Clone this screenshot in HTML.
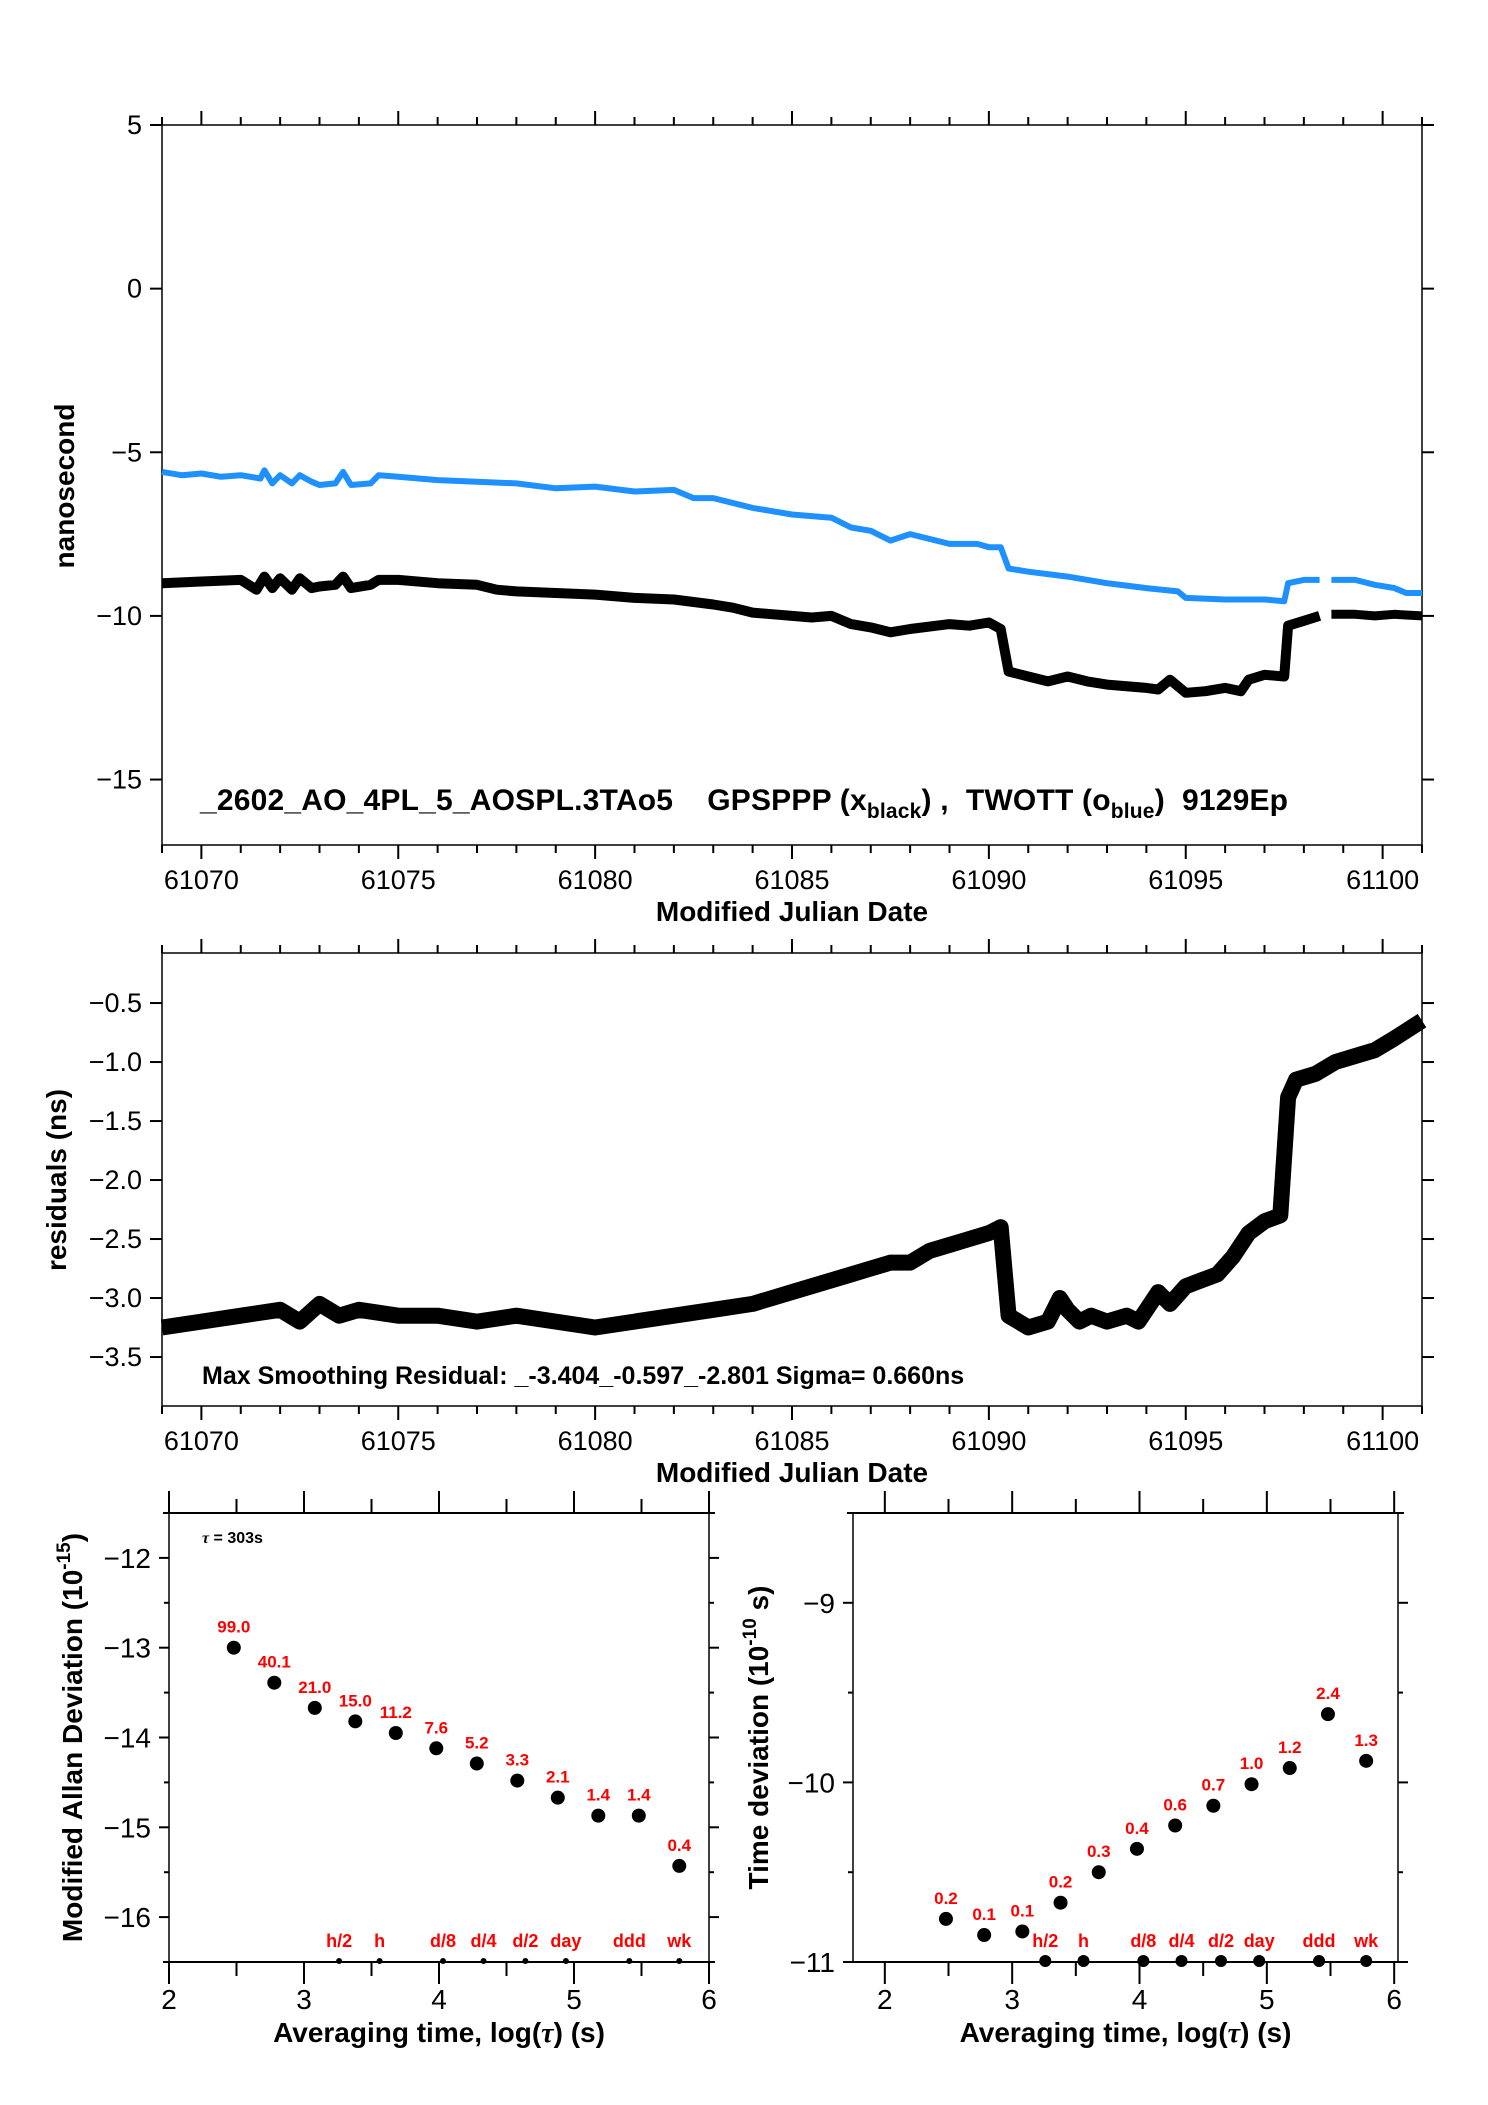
<!DOCTYPE html>
<html><head><meta charset="utf-8"><style>
body{margin:0;background:#fff}
svg{display:block}
text{font-family:"Liberation Sans",sans-serif}
</style></head><body>
<svg id="s" width="1488" height="2105" viewBox="0 0 1488 2105" xmlns="http://www.w3.org/2000/svg"></svg>
<script>
// ---- data ----
const twottMjd=[61069,61069.5,61070,61070.5,61071,61071.5,61071.6,61071.8,61072,61072.3,61072.5,61072.8,61073,61073.4,61073.6,61073.8,61074.3,61074.5,61075,61076,61077,61078,61079,61080,61081,61082,61082.5,61083,61083.5,61084,61084.5,61085,61086,61086.5,61087,61087.5,61088,61089,61089.7,61090,61090.3,61090.5,61091,61092,61093,61094,61094.8,61095,61096,61097,61097.5,61097.6,61098,61098.4];
const twottVal=[-5.6,-5.7,-5.65,-5.75,-5.7,-5.8,-5.55,-5.95,-5.7,-5.95,-5.7,-5.9,-6.0,-5.95,-5.6,-6.0,-5.95,-5.7,-5.75,-5.85,-5.9,-5.95,-6.1,-6.05,-6.2,-6.15,-6.4,-6.4,-6.55,-6.7,-6.8,-6.9,-7.0,-7.3,-7.4,-7.7,-7.5,-7.8,-7.8,-7.9,-7.9,-8.55,-8.65,-8.8,-9.0,-9.15,-9.25,-9.45,-9.5,-9.5,-9.55,-9.0,-8.9,-8.9];
const twottMjd2=[61098.7,61099.3,61099.8,61100.3,61100.6,61101];
const twottVal2=[-8.9,-8.9,-9.05,-9.15,-9.3,-9.3];
const gpsMjd=[61069,61070,61071,61071.4,61071.6,61071.8,61072,61072.3,61072.5,61072.8,61073,61073.4,61073.6,61073.8,61074.3,61074.5,61075,61076,61077,61077.5,61078,61079,61080,61081,61082,61083,61083.5,61084,61085,61085.5,61086,61086.5,61087,61087.5,61088,61089,61089.5,61090,61090.3,61090.5,61091,61091.5,61092,61092.5,61093,61094,61094.3,61094.6,61095,61095.5,61096,61096.4,61096.6,61097,61097.5,61097.6,61098,61098.4];
const gpsVal=[-9.0,-8.95,-8.9,-9.2,-8.8,-9.15,-8.85,-9.2,-8.85,-9.15,-9.1,-9.05,-8.8,-9.15,-9.05,-8.9,-8.9,-9.0,-9.05,-9.2,-9.25,-9.3,-9.35,-9.45,-9.5,-9.65,-9.75,-9.9,-10.0,-10.05,-10.0,-10.25,-10.35,-10.5,-10.4,-10.25,-10.3,-10.2,-10.4,-11.7,-11.85,-12.0,-11.85,-12.0,-12.1,-12.2,-12.25,-11.95,-12.35,-12.3,-12.2,-12.3,-11.95,-11.8,-11.85,-10.3,-10.15,-10.0];
const gpsMjd2=[61098.7,61099.3,61099.8,61100.3,61101];
const gpsVal2=[-9.95,-9.95,-10.0,-9.95,-10.0];
const resMjd=[61069,61070,61071,61072,61072.5,61073,61073.5,61074,61075,61076,61077,61078,61079,61080,61081,61082,61083,61084,61084.5,61085,61085.5,61086,61086.5,61087,61087.5,61088,61088.5,61089,61089.5,61090,61090.3,61090.5,61091,61091.5,61091.8,61092,61092.3,61092.6,61093,61093.5,61093.8,61094,61094.3,61094.6,61095,61095.4,61095.8,61096.2,61096.6,61097,61097.4,61097.6,61097.8,61098.3,61098.8,61099.3,61099.8,61100.3,61101];
const resVal=[-3.25,-3.2,-3.15,-3.1,-3.2,-3.05,-3.15,-3.1,-3.15,-3.15,-3.2,-3.15,-3.2,-3.25,-3.2,-3.15,-3.1,-3.05,-3.0,-2.95,-2.9,-2.85,-2.8,-2.75,-2.7,-2.7,-2.6,-2.55,-2.5,-2.45,-2.4,-3.15,-3.25,-3.2,-3.0,-3.1,-3.2,-3.15,-3.2,-3.15,-3.2,-3.1,-2.95,-3.05,-2.9,-2.85,-2.8,-2.65,-2.45,-2.35,-2.3,-1.3,-1.15,-1.1,-1.0,-0.95,-0.9,-0.8,-0.65];
const tauLog=[2.48,2.78,3.08,3.38,3.68,3.98,4.28,4.58,4.88,5.18,5.48,5.78];
const madev=[-13.0,-13.39,-13.67,-13.82,-13.95,-14.12,-14.29,-14.48,-14.67,-14.87,-14.87,-15.43];
const madevLbl=["99.0","40.1","21.0","15.0","11.2","7.6","5.2","3.3","2.1","1.4","1.4","0.4"];
const tdev=[-10.76,-10.85,-10.83,-10.67,-10.5,-10.37,-10.24,-10.13,-10.01,-9.92,-9.62,-9.88];
const tdevLbl=["0.2","0.1","0.1","0.2","0.3","0.4","0.6","0.7","1.0","1.2","2.4","1.3"];
const markLog=[3.26,3.56,4.03,4.33,4.64,4.94,5.41,5.78];
const markLbl=["h/2","h","d/8","d/4","d/2","day","ddd","wk"];
const mjdTicks=[61070,61075,61080,61085,61090,61095,61100];
const topYTicks=[5,0,-5,-10,-15];
const resYTicks=[-0.5,-1.0,-1.5,-2.0,-2.5,-3.0,-3.5];
const logTicks=[2,3,4,5,6];
const adevYTicks=[-12,-13,-14,-15,-16];
const tdevYTicks=[-9,-10,-11];

const S=document.getElementById('s');
const NS='http://www.w3.org/2000/svg';
function el(t,a,p){const e=document.createElementNS(NS,t);for(const k in a)e.setAttribute(k,a[k]);(p||S).appendChild(e);return e;}
function txt(x,y,s,a,p){const e=el('text',Object.assign({x:x,y:y,'font-size':24,fill:'#000'},a),p);e.textContent=s;return e;}
function lin(d0,d1,r0,r1){return v=>r0+(v-d0)/(d1-d0)*(r1-r0);}

function tsFrame(g,L,R,T,B,xs,ys,yTicks,fmt){
  el('rect',{x:L,y:T,width:R-L,height:B-T,fill:'none',stroke:'#000','stroke-width':1.5},g);
  for(let d=61069;d<=61101;d++){const x=xs(d);const maj=d%5==0;
    el('line',{x1:x,y1:T,x2:x,y2:T-(maj?14:8),stroke:'#000','stroke-width':2},g);
    el('line',{x1:x,y1:B,x2:x,y2:B+(maj?14:8),stroke:'#000','stroke-width':2},g);}
  mjdTicks.forEach(m=>{const t=txt(xs(m),B+44,String(m),{'text-anchor':'middle','font-size':27},g);
    
    });
  yTicks.forEach(v=>{const y=ys(v);
    el('line',{x1:L-12,y1:y,x2:L,y2:y,stroke:'#000','stroke-width':2},g);
    el('line',{x1:R,y1:y,x2:R+12,y2:y,stroke:'#000','stroke-width':2},g);
    const t=txt(L-20,y+9,fmt(v),{'text-anchor':'end','font-size':27},g);
    
    });
  const xt=txt((L+R)/2,B+76,'Modified Julian Date',{'text-anchor':'middle','font-size':28,'font-weight':'bold'},g);
  
  
}
function fmtNum(v){return v<0?'\u2212'+Math.abs(v):String(v);}
function fmtDec(v){return v<0?'\u2212'+Math.abs(v).toFixed(1):v.toFixed(1);}
function poly(g,xs,ys,X,Y,col,w,name){const pts=X.map((m,i)=>xs(m).toFixed(1)+','+ys(Y[i]).toFixed(1)).join(' ');
  const p=el('polyline',{points:pts,fill:'none',stroke:col,'stroke-width':w,'stroke-linejoin':'round'},g);
  
  }

const g1=el('g',{});


{const L=162,R=1422,T=125,B=845;const xs=lin(61069,61101,L,R),ys=lin(5,-17,T,B);
 tsFrame(g1,L,R,T,B,xs,ys,topYTicks,fmtNum);
 poly(g1,xs,ys,twottMjd,twottVal,'#1e90ff',6,'twott-series');
 poly(g1,xs,ys,twottMjd2,twottVal2,'#1e90ff',6,'twott-series-end');
 poly(g1,xs,ys,gpsMjd,gpsVal,'#000',10,'gpsppp-series');
 poly(g1,xs,ys,gpsMjd2,gpsVal2,'#000',9,'gpsppp-series-end');
 const yt=txt(0,0,'nanosecond',{'font-size':28,'font-weight':'bold','text-anchor':'middle',transform:'translate(74,486) rotate(-90)'},g1);
 
 
 const t=el('text',{x:200,y:810,'font-size':30,'font-weight':'bold','textLength':1088},g1);
 
 
 t.innerHTML='_2602_AO_4PL_5_AOSPL.3TAo5&#160;&#160;&#160;&#160;GPSPPP (x<tspan font-size="21" dy="8">black</tspan><tspan dy="-8">) ,&#160;&#160;TWOTT (o</tspan><tspan font-size="21" dy="8">blue</tspan><tspan dy="-8">)&#160;&#160;9129Ep</tspan>';
}
const g2=el('g',{});


{const L=162,R=1422,T=953,B=1406;const xs=lin(61069,61101,L,R),ys=lin(-0.076,-3.915,T,B);
 tsFrame(g2,L,R,T,B,xs,ys,resYTicks,fmtDec);
 poly(g2,xs,ys,resMjd,resVal,'#000',16,'residual-series');
 const yt=txt(0,0,'residuals (ns)',{'font-size':28,'font-weight':'bold','text-anchor':'middle',transform:'translate(66,1180) rotate(-90)'},g2);
 
 
 const t=txt(202,1384,'Max Smoothing Residual: _-3.404_-0.597_-2.801  Sigma= 0.660ns',{'font-size':25,'font-weight':'bold','xml:space':'preserve'},g2);
 
 
}
function devPlot(name,L,R,T,B,x0,x1,y0,y1,yT,vals,lbls,markY,ytitle,ytx){
  const g=el('g',{});
  
  
  const xs=lin(x0,x1,L,R),ys=lin(y0,y1,T,B);
  el('rect',{x:L,y:T,width:R-L,height:B-T,fill:'none',stroke:'#000','stroke-width':1.5},g);
  el('line',{x1:L-6,y1:T,x2:R+6,y2:T,stroke:'#000','stroke-width':2},g);
  el('line',{x1:L-6,y1:B,x2:R+6,y2:B,stroke:'#000','stroke-width':2},g);
  for(let v=2;v<=6;v+=0.5){const x=xs(v);const maj=v%1==0;
    el('line',{x1:x,y1:T,x2:x,y2:T-(maj?22:14),stroke:'#000','stroke-width':2},g);
    el('line',{x1:x,y1:B,x2:x,y2:B+(maj?22:14),stroke:'#000','stroke-width':2},g);}
  logTicks.forEach(v=>{const t=txt(xs(v),B+47,String(v),{'text-anchor':'middle','font-size':28},g);
    
    });
  for(let v=Math.ceil(y1*2)/2;v<=y0;v+=0.5){const y=ys(v);const maj=v%1==0;
    el('line',{x1:L-(maj?10:5),y1:y,x2:L,y2:y,stroke:'#000','stroke-width':2},g);
    el('line',{x1:R,y1:y,x2:R+(maj?10:5),y2:y,stroke:'#000','stroke-width':2},g);}
  yT.forEach(v=>{const t=txt(L-18,ys(v)+10,fmtNum(v),{'text-anchor':'end','font-size':28},g);
    
    });
  vals.forEach((v,i)=>{const c=el('circle',{cx:xs(tauLog[i]),cy:ys(v),r:7,fill:'#000'},g);
    
    
    const t=txt(xs(tauLog[i]),ys(v)-15,lbls[i],{'text-anchor':'middle','font-size':17,'font-weight':'bold',fill:'#ff0000'},g);
    
    });
  markLog.forEach((m,i)=>{const c=el('circle',{cx:xs(m),cy:B-1,r:markY,fill:'#000'},g);
    
    
    const t=txt(xs(m),B-15,markLbl[i],{'text-anchor':'middle','font-size':18,'font-weight':'bold',fill:'#ff0000'},g);
    
    });
  const xt=el('text',{x:(L+R)/2,y:B+80,'text-anchor':'middle','font-size':28,'font-weight':'bold'},g);
  
  
  xt.innerHTML='Averaging time, log(<tspan font-family="Liberation Serif" font-style="italic">\u03c4</tspan>) (s)';
  const yt=el('text',{'font-size':28,'font-weight':'bold','text-anchor':'middle',transform:'translate('+ytx+','+((T+B)/2)+') rotate(-90)'},g);
  
  
  yt.innerHTML=ytitle;
  return {g,xs,ys};
}
const a=devPlot('mod-allan-deviation-plot',169,709,1513,1962,2,6,-11.5,-16.5,adevYTicks,madev,madevLbl,3,'Modified Allan Deviation (10<tspan font-size="19" dy="-12">-15</tspan><tspan dy="12">)</tspan>',82);
{const t=el('text',{x:202,y:1543,'font-size':16,'font-weight':'bold'},a.g);
 
 
 t.innerHTML='<tspan font-family="Liberation Serif" font-style="italic">\u03c4</tspan> = 303s';}
devPlot('time-deviation-plot',853,1398,1513,1962,1.75,6.03,-8.5,-11,tdevYTicks,tdev,tdevLbl,6,'Time deviation (10<tspan font-size="19" dy="-12">-10</tspan><tspan dy="12"> s)</tspan>',768);
</script>
</body></html>
